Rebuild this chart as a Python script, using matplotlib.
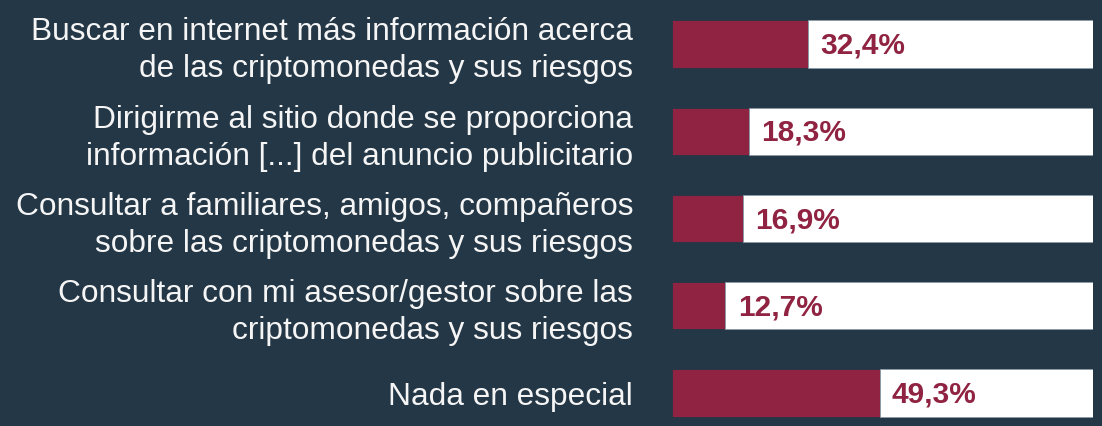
import matplotlib
matplotlib.use("Agg")
import matplotlib.pyplot as plt

categories = [
    "Buscar en internet más información acerca\nde las criptomonedas y sus riesgos",
    "Dirigirme al sitio donde se proporciona\ninformación [...] del anuncio publicitario",
    "Consultar a familiares, amigos, compañeros\nsobre las criptomonedas y sus riesgos",
    "Consultar con mi asesor/gestor sobre las\ncriptomonedas y sus riesgos",
    "Nada en especial",
]
values = [32.4, 18.3, 16.9, 12.7, 49.3]
value_labels = ["32,4%", "18,3%", "16,9%", "12,7%", "49,3%"]

BG = "#243746"
MAROON = "#8F2341"

plt.rcParams['font.family'] = ['Liberation Sans', 'DejaVu Sans']

fig = plt.figure(figsize=(11.02, 4.26), dpi=100, facecolor=BG)
ax = fig.add_axes([672/1102, 0, (1093-672)/1102, 1])
ax.set_facecolor(BG)

pos = list(range(len(categories)))
h = 0.54
ax.barh(pos, values, height=h, color=MAROON, edgecolor=BG, linewidth=0.6)
ax.barh(pos, [100 - v for v in values], left=values, height=h, color="white",
        edgecolor="#8a9aa6", linewidth=0.6)

for p, v, lab in zip(pos, values, value_labels):
    ax.text(v + 2.9, p + 0.02, lab, color=MAROON, fontsize=21.5, fontweight='bold',
            va='center', ha='left')

ax.set_xlim(0, 100)
ax.set_ylim((426 - 44) / 87.25, -44 / 87.25)
ax.set_yticks(pos)
ax.set_yticklabels(categories, fontsize=22.8, color="#f5f5f5", linespacing=1.3)
ax.tick_params(axis='y', length=0, pad=28)
ax.set_xticks([])
for s in ax.spines.values():
    s.set_visible(False)

fig.savefig("out.png", dpi=100, facecolor=BG)
